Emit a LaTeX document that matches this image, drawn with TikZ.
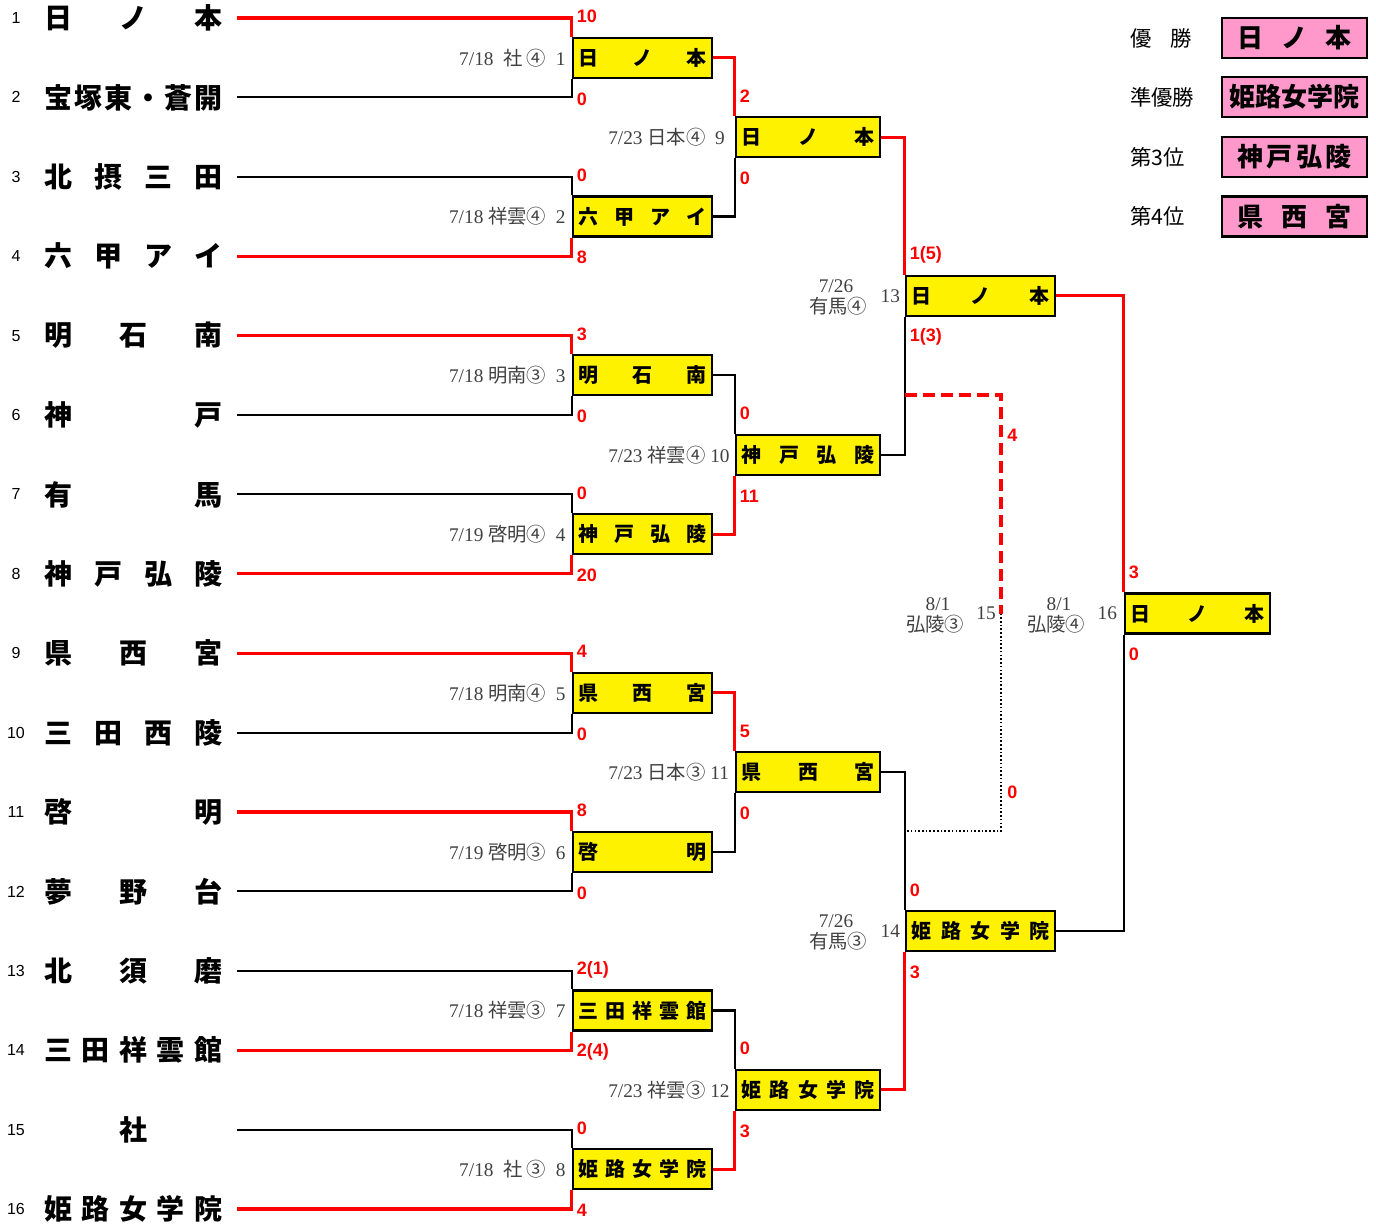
\documentclass[tikz,border=0pt]{standalone}
\usepackage{fontspec}
\setmainfont{Liberation Serif}
\newfontfamily\jp{Noto Sans CJK JP}
\newfontfamily\lsans{Liberation Sans}
\usetikzlibrary{calc}
\newcommand{\Spread}[2]{\makebox[#1][s]{#2}}
\definecolor{legpink}{HTML}{FF99CC}
\definecolor{lblgray}{HTML}{404040}
\begin{document}
\begin{tikzpicture}[x=0.75pt,y=-0.75pt,
  win/.style={draw=red, line width=2.3pt},
  lose/.style={draw=black, line width=1.6pt},
  ybox/.style={draw=black, line width=1.7pt, fill=yellow, inner sep=0pt, minimum height=30pt,
     font=\jp\bfseries\fontsize{15}{15}\selectfont},
  rone/.style={ybox, minimum width=104.25pt},
  rtwo/.style={ybox, minimum width=108pt},
  rthree/.style={ybox, minimum width=111.75pt},
  rfin/.style={ybox, minimum width=108.75pt},
  pbox/.style={draw=black, line width=1.7pt, fill=legpink, inner sep=0pt, minimum width=108.75pt,
     minimum height=30pt, font=\jp\bfseries\fontsize{19.5}{20}\selectfont},
  score/.style={text=red, anchor=west, inner sep=0pt, font=\lsans\bfseries\fontsize{13.5}{14}\selectfont},
  mlabel/.style={text=lblgray, inner sep=0pt, font=\fontsize{14.5}{16}\selectfont},
  team/.style={anchor=west, inner sep=0pt, font=\jp\bfseries\fontsize{21}{22}\selectfont},
  tnum/.style={inner sep=0pt, font=\lsans\fontsize{12}{12}\selectfont},
  leg/.style={anchor=west, inner sep=0pt, font=\jp\fontsize{16}{17}\selectfont},
  dashline/.style={win, line width=2.5pt, dash pattern=on 9pt off 4.5pt},
  dotline/.style={draw=black, line width=1.2pt, dash pattern=on 1.2pt off 1.6pt}
]
\useasboundingbox (0,0) rectangle (1376,1225);

% ---------------- teams ----------------
\foreach \i/\nm in {1/{日\hfill ノ\hfill 本}, 2/{宝\hfill 塚\hfill 東\hfill ・\hfill 蒼\hfill 開},
  3/{北\hfill 摂\hfill 三\hfill 田}, 4/{六\hfill 甲\hfill ア\hfill イ}, 5/{明\hfill 石\hfill 南},
  6/{神\hfill 戸}, 7/{有\hfill 馬}, 8/{神\hfill 戸\hfill 弘\hfill 陵}, 9/{県\hfill 西\hfill 宮},
  10/{三\hfill 田\hfill 西\hfill 陵}, 11/{啓\hfill 明}, 12/{夢\hfill 野\hfill 台},
  13/{北\hfill 須\hfill 磨}, 14/{三\hfill 田\hfill 祥\hfill 雲\hfill 館}, 15/{\hfill 社\hfill},
  16/{姫\hfill 路\hfill 女\hfill 学\hfill 院}} {
  \pgfmathsetmacro\yy{18+(\i-1)*79.4}
  \node[tnum] (num\i) at (16,\yy) {\i};
  \node[team] (n\i) at (44,\yy) {\Spread{133.5pt}{\nm}};
  \coordinate (t\i) at (237,\yy);
}

% ---------------- round 1 boxes ----------------
\node[rone] (b1) at (642.5,57.7)  {\Spread{96pt}{日\hfill ノ\hfill 本}};
\node[rone] (b2) at (642.5,216.5) {\Spread{96pt}{六\hfill 甲\hfill ア\hfill イ}};
\node[rone] (b3) at (642.5,375.3) {\Spread{96pt}{明\hfill 石\hfill 南}};
\node[rone] (b4) at (642.5,534.1) {\Spread{96pt}{神\hfill 戸\hfill 弘\hfill 陵}};
\node[rone] (b5) at (642.5,692.9) {\Spread{96pt}{県\hfill 西\hfill 宮}};
\node[rone] (b6) at (642.5,851.7) {\Spread{96pt}{啓\hfill 明}};
\node[rone] (b7) at (642.5,1010.5){\Spread{96pt}{三\hfill 田\hfill 祥\hfill 雲\hfill 館}};
\node[rone] (b8) at (642.5,1169.3){\Spread{96pt}{姫\hfill 路\hfill 女\hfill 学\hfill 院}};
% round 2
\node[rtwo] (b9)  at (808,137.1)  {\Spread{100pt}{日\hfill ノ\hfill 本}};
\node[rtwo] (b10) at (808,454.7)  {\Spread{100pt}{神\hfill 戸\hfill 弘\hfill 陵}};
\node[rtwo] (b11) at (808,772.3)  {\Spread{100pt}{県\hfill 西\hfill 宮}};
\node[rtwo] (b12) at (808,1089.9) {\Spread{100pt}{姫\hfill 路\hfill 女\hfill 学\hfill 院}};
% round 3
\node[rthree] (b13) at (980.5,295.9) {\Spread{103.5pt}{日\hfill ノ\hfill 本}};
\node[rthree] (b14) at (980.5,931.1) {\Spread{103.5pt}{姫\hfill 路\hfill 女\hfill 学\hfill 院}};
% final
\node[rfin] (b16) at (1197.5,613.5) {\Spread{100.5pt}{日\hfill ノ\hfill 本}};

% ---------------- round 1 connectors ----------------
\draw[win]  (t1)  -- (t1 -| b1.west)  -- (b1.north west);
\draw[lose] (t2)  -- (t2 -| b1.west)  -- (b1.south west);
\draw[lose] (t3)  -- (t3 -| b2.west)  -- (b2.north west);
\draw[win]  (t4)  -- (t4 -| b2.west)  -- (b2.south west);
\draw[win]  (t5)  -- (t5 -| b3.west)  -- (b3.north west);
\draw[lose] (t6)  -- (t6 -| b3.west)  -- (b3.south west);
\draw[lose] (t7)  -- (t7 -| b4.west)  -- (b4.north west);
\draw[win]  (t8)  -- (t8 -| b4.west)  -- (b4.south west);
\draw[win]  (t9)  -- (t9 -| b5.west)  -- (b5.north west);
\draw[lose] (t10) -- (t10 -| b5.west) -- (b5.south west);
\draw[win]  (t11) -- (t11 -| b6.west) -- (b6.north west);
\draw[lose] (t12) -- (t12 -| b6.west) -- (b6.south west);
\draw[lose] (t13) -- (t13 -| b7.west) -- (b7.north west);
\draw[win]  (t14) -- (t14 -| b7.west) -- (b7.south west);
\draw[lose] (t15) -- (t15 -| b8.west) -- (b8.north west);
\draw[win]  (t16) -- (t16 -| b8.west) -- (b8.south west);
% round 2 connectors
\draw[win]  (b1.east) -- (b1.east -| b9.west)  -- (b9.north west);
\draw[lose] (b2.east) -- (b2.east -| b9.west)  -- (b9.south west);
\draw[lose] (b3.east) -- (b3.east -| b10.west) -- (b10.north west);
\draw[win]  (b4.east) -- (b4.east -| b10.west) -- (b10.south west);
\draw[win]  (b5.east) -- (b5.east -| b11.west) -- (b11.north west);
\draw[lose] (b6.east) -- (b6.east -| b11.west) -- (b11.south west);
\draw[lose] (b7.east) -- (b7.east -| b12.west) -- (b12.north west);
\draw[win]  (b8.east) -- (b8.east -| b12.west) -- (b12.south west);
% round 3 connectors
\draw[win]  (b9.east)  -- (b9.east -| b13.west)  -- (b13.north west);
\draw[lose] (b10.east) -- (b10.east -| b13.west) -- (b13.south west);
\draw[lose] (b11.east) -- (b11.east -| b14.west) -- (b14.north west);
\draw[win]  (b12.east) -- (b12.east -| b14.west) -- (b14.south west);
% final connectors
\draw[win]  (b13.east) -- (b13.east -| b16.west) -- (b16.north west);
\draw[lose] (b14.east) -- (b14.east -| b16.west) -- (b16.south west);
% third-place match
\coordinate (h1) at (0,395);
\coordinate (h2) at (0,831);
\coordinate (s13) at (b13.west |- h1);
\coordinate (s14) at (b14.west |- h2);
\coordinate (k15a) at (1001,395);
\coordinate (k15m) at (1001,613.5);
\coordinate (k15b) at (1001,831);
\draw[dashline] (s13) -- (k15a) -- (k15m);
\draw[dotline] (k15m) -- (k15b) -- (s14);

% ---------------- scores ----------------
\foreach \b/\sa/\sb in {b1/10/0, b2/0/8, b3/3/0, b4/0/20, b5/4/0, b6/8/0, b7/2(1)/2(4), b8/0/4,
   b9/2/0, b10/0/11, b11/5/0, b12/0/3, b13/1(5)/1(3), b14/0/3, b16/3/0} {
  \node[score] at ([xshift=3.5pt,yshift=15pt]\b.north west) {\sa};
  \node[score] at ([xshift=3.5pt,yshift=-15pt]\b.south west) {\sb};
}
\node[score] at ([xshift=4.5pt]k15a |- 0,435) {4};
\node[score] at ([xshift=4.5pt]k15b |- 0,792) {0};

% ---------------- match labels ----------------
\node[mlabel, anchor=east] at ([xshift=-4.5pt]b1.west) {7/18\ \ {\jp 社 ④}\ \ 1};
\node[mlabel, anchor=east] at ([xshift=-4.5pt]b2.west) {7/18 {\jp 祥雲④}\ \ 2};
\node[mlabel, anchor=east] at ([xshift=-4.5pt]b3.west) {7/18 {\jp 明南③}\ \ 3};
\node[mlabel, anchor=east] at ([xshift=-4.5pt]b4.west) {7/19 {\jp 啓明④}\ \ 4};
\node[mlabel, anchor=east] at ([xshift=-4.5pt]b5.west) {7/18 {\jp 明南④}\ \ 5};
\node[mlabel, anchor=east] at ([xshift=-4.5pt]b6.west) {7/19 {\jp 啓明③}\ \ 6};
\node[mlabel, anchor=east] at ([xshift=-4.5pt]b7.west) {7/18 {\jp 祥雲③}\ \ 7};
\node[mlabel, anchor=east] at ([xshift=-4.5pt]b8.west) {7/18\ \ {\jp 社 ③}\ \ 8};
\node[mlabel, anchor=west] at (608,137.1)  {7/23 {\jp 日本④}\ \ 9};
\node[mlabel, anchor=west] at (608,454.7)  {7/23 {\jp 祥雲④} 10};
\node[mlabel, anchor=west] at (608,772.3)  {7/23 {\jp 日本③} 11};
\node[mlabel, anchor=west] at (608,1089.9) {7/23 {\jp 祥雲③} 12};
\node[mlabel, anchor=east] at ([xshift=-3.5pt]b13.west) {13};
\node[mlabel] at (836,286) {7/26};
\node[mlabel] at (838,306) {\jp 有馬④};
\node[mlabel, anchor=east] at ([xshift=-3.5pt]b14.west) {14};
\node[mlabel] at (836,921) {7/26};
\node[mlabel] at (838,941) {\jp 有馬③};
\node[mlabel, anchor=east] at (996,613.5) {15};
\node[mlabel] at (938,604) {8/1};
\node[mlabel] at (935,624) {\jp 弘陵③};
\node[mlabel, anchor=east] at ([xshift=-5pt]b16.west) {16};
\node[mlabel] at (1059,604) {8/1};
\node[mlabel] at (1056,624) {\jp 弘陵④};

% ---------------- legend ----------------
\node[leg] (l1) at (1130,38)  {\Spread{46.5pt}{優\hfill 勝}};
\node[leg] (l2) at (1130,97)  {準優勝};
\node[leg] (l3) at (1130,157) {第3位};
\node[leg] (l4) at (1130,216.5) {第4位};
\node[pbox] (p1) at (1294.5,38)    {\Spread{85pt}{日\hfill ノ\hfill 本}};
\node[pbox] (p2) at (1294.5,97)    {姫路女学院};
\node[pbox] (p3) at (1294.5,157)   {\Spread{86pt}{神\hfill 戸\hfill 弘\hfill 陵}};
\node[pbox] (p4) at (1294.5,216.5) {\Spread{85pt}{県\hfill 西\hfill 宮}};
\end{tikzpicture}
\end{document}
